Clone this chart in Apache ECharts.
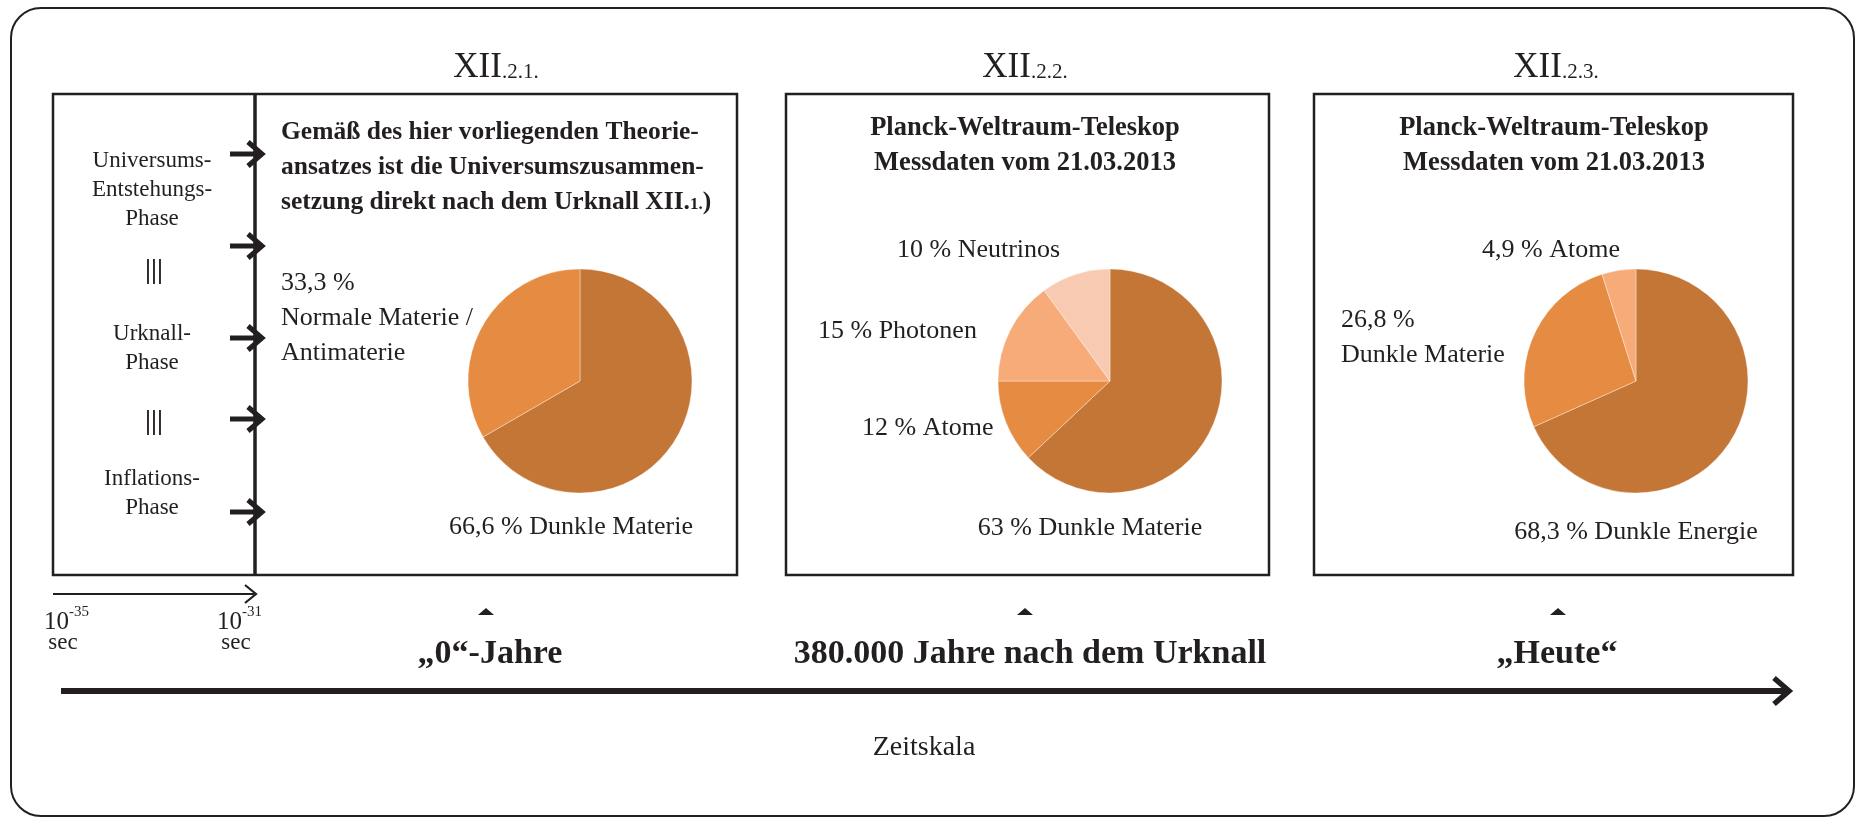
<!DOCTYPE html>
<html>
<head>
<meta charset="utf-8">
<script src="https://cdn.jsdelivr.net/npm/echarts@6/dist/echarts.min.js"></script>
<style>
  html, body { margin: 0; padding: 0; background: #fff; }
  #chart { width: 1863px; height: 819px; }
</style>
</head>
<body>
<div id="chart"></div>
<script>
// data
const sectionNumbers = ['2.1.', '2.2.', '2.3.']
const pie1Names = ['Dunkle Materie', 'Normale Materie / Antimaterie']
const pie1Values = [66.6, 33.3]
const pie2Names = ['Dunkle Materie', 'Atome', 'Photonen', 'Neutrinos']
const pie2Values = [63, 12, 15, 10]
const pie3Names = ['Dunkle Energie', 'Dunkle Materie', 'Atome']
const pie3Values = [68.3, 26.8, 4.9]
const phaseLabels = ['Universums-\nEntstehungs-\nPhase', 'Urknall-\nPhase', 'Inflations-\nPhase']
const timeLabels = ['\u201e0\u201c-Jahre', '380.000 Jahre nach dem Urknall', '\u201eHeute\u201c']
const secExponents = ['-35', '-31']
const pieColors = ['#C47636', '#E68C42', '#F6AB79', '#F8CAB2']

const INK = '#231f20'
const SERIF = '"Liberation Serif", "Times New Roman", serif'
const fmt = (v) => String(v).replace('.', ',') + ' %'

const chart = echarts.init(document.getElementById('chart'))

const txt = (x, y, text, size, opts = {}) => ({
  type: 'text',
  x, y,
  silent: true,
  style: {
    text,
    font: `${opts.bold ? 'bold ' : ''}${size}px ${SERIF}`,
    fill: INK,
    align: opts.align || 'center',
    verticalAlign: opts.va || 'middle',
    lineHeight: opts.lh,
    rich: opts.rich,
  },
})

const line = (x1, y1, x2, y2, w) => ({
  type: 'line', silent: true,
  shape: { x1, y1, x2, y2 },
  style: { stroke: INK, lineWidth: w },
})

const chevron = (x, y, dx, dy, w) => ({
  type: 'polyline', silent: true,
  shape: { points: [[x - dx, y - dy], [x, y], [x - dx, y + dy]] },
  style: { stroke: INK, lineWidth: w, fill: null, lineJoin: 'miter' },
})

const rect = (x, y, w, h, lw, r) => ({
  type: 'rect', silent: true,
  shape: { x, y, width: w, height: h, r: r || 0 },
  style: { stroke: INK, fill: null, lineWidth: lw },
})

const tri = (cx, y) => ({
  type: 'polygon', silent: true,
  shape: { points: [[cx - 8, y + 7], [cx + 8, y + 7], [cx, y]] },
  style: { fill: INK },
})

const graphic = []

// frames
graphic.push(rect(11, 8, 1843, 808, 2, 30))
graphic.push(rect(53, 94, 684, 481, 2.5))
graphic.push(line(255, 94, 255, 575, 3.5))
graphic.push(rect(786, 94, 483, 481, 2.5))
graphic.push(rect(1314, 94, 479, 481, 2.5))

// section numbers
const titleX = [496, 1025, 1556]
sectionNumbers.forEach((s, i) => {
  graphic.push(txt(titleX[i], 68, `{a|XII}{b|.${s}}`, 34, {
    rich: {
      a: { font: `35px ${SERIF}`, fill: INK, verticalAlign: 'bottom' },
      b: { font: `21px ${SERIF}`, fill: INK, verticalAlign: 'bottom', padding: [0, 0, 3, 0] },
    },
  }))
})

// phase column
const phaseY = [190, 348, 493]
phaseLabels.forEach((p, i) => graphic.push(txt(152, phaseY[i], p, 23, { lh: 29 })))
;[271, 422].forEach((y) => graphic.push(txt(154, y, '|||', 27, { bold: true })))
;[154, 246, 338, 419, 512].forEach((y) => {
  graphic.push(line(230, y, 259, y, 5))
  graphic.push(chevron(262, y, 14, 12, 5))
})

// small time arrow with its two marks
graphic.push(line(53, 594, 254, 594, 2.2))
graphic.push(chevron(256, 594, 11, 9, 2.2))
const secX = [44, 217]
secExponents.forEach((e, i) => {
  graphic.push(txt(secX[i], 622, '10', 25, { align: 'left' }))
  graphic.push(txt(secX[i] + 25, 612, e, 15, { align: 'left' }))
  graphic.push(txt(secX[i] + 19, 643, 'sec', 23))
})

// panel headings
graphic.push(txt(281, 163,
  '{b|Gem\u00e4\u00df des hier vorliegenden Theorie-}\n{b|ansatzes ist die Universumszusammen-}\n{b|setzung direkt nach dem Urknall XII.}{s|1.}{b|)}',
  25, {
    align: 'left', lh: 35,
    rich: {
      b: { font: `bold 25.5px ${SERIF}`, fill: INK, lineHeight: 35, verticalAlign: 'bottom' },
      s: { font: `bold 17px ${SERIF}`, fill: INK, lineHeight: 35, verticalAlign: 'bottom', padding: [0, 0, 2, 0] },
    },
  }))
graphic.push(txt(1025, 146, 'Planck-Weltraum-Teleskop\nMessdaten vom 21.03.2013', 26.5, { bold: true, lh: 35 }))
graphic.push(txt(1554, 146, 'Planck-Weltraum-Teleskop\nMessdaten vom 21.03.2013', 26.5, { bold: true, lh: 35 }))

// pie labels, built from the data
graphic.push(txt(281, 318, `${fmt(pie1Values[1])}\n${pie1Names[1].replace('/ ', '/\n')}`, 26, { align: 'left', lh: 35 }))
graphic.push(txt(571, 527, `${fmt(pie1Values[0])} ${pie1Names[0]}`, 26))

graphic.push(txt(897, 250, `${fmt(pie2Values[3])} ${pie2Names[3]}`, 26, { align: 'left' }))
graphic.push(txt(818, 331, `${fmt(pie2Values[2])} ${pie2Names[2]}`, 26, { align: 'left' }))
graphic.push(txt(862, 428, `${fmt(pie2Values[1])} ${pie2Names[1]}`, 26, { align: 'left' }))
graphic.push(txt(1090, 528, `${fmt(pie2Values[0])} ${pie2Names[0]}`, 26))

graphic.push(txt(1482, 250, `${fmt(pie3Values[2])} ${pie3Names[2]}`, 26, { align: 'left' }))
graphic.push(txt(1341, 338, `${fmt(pie3Values[1])}\n${pie3Names[1]}`, 26, { align: 'left', lh: 35 }))
graphic.push(txt(1636, 532, `${fmt(pie3Values[0])} ${pie3Names[0]}`, 26))

// time line
const markX = [486, 1025, 1558]
const timeX = [490, 1030, 1557]
timeLabels.forEach((t, i) => {
  graphic.push(tri(markX[i], 608))
  graphic.push(txt(timeX[i], 654, t, 34, { bold: true }))
})
graphic.push(line(61, 691, 1786, 691, 6))
graphic.push(chevron(1789, 691, 15, 13, 5.5))
graphic.push(txt(924, 748, 'Zeitskala', 28))

const pieSeries = (names, values, center) => ({
  type: 'pie',
  center,
  radius: 112,
  startAngle: 90,
  clockwise: true,
  silent: true,
  label: { show: false },
  labelLine: { show: false },
  itemStyle: { borderColor: 'rgba(255,255,255,0.6)', borderWidth: 0.6 },
  data: names.map((n, i) => ({ name: n, value: values[i], itemStyle: { color: pieColors[i] } })),
})

chart.setOption({
  animation: false,
  backgroundColor: '#fff',
  series: [
    pieSeries(pie1Names, pie1Values, [580, 381]),
    pieSeries(pie2Names, pie2Values, [1110, 381]),
    pieSeries(pie3Names, pie3Values, [1636, 381]),
  ],
  graphic,
})
</script>
</body>
</html>
